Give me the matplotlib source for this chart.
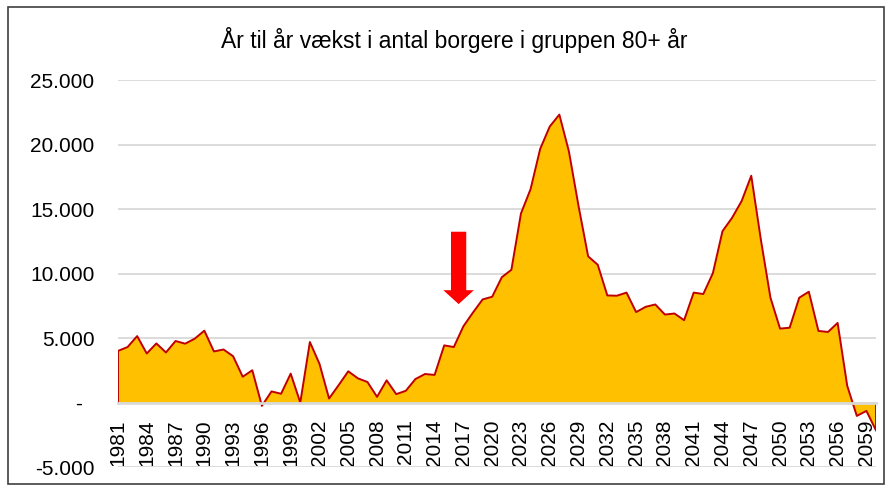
import matplotlib
matplotlib.use('Agg')
import matplotlib.pyplot as plt
from matplotlib.patches import Rectangle
from matplotlib.ticker import FuncFormatter, MultipleLocator

plt.rcParams['font.family'] = ['Liberation Sans', 'DejaVu Sans']

# år 1981-2060, vækst i antal borgere 80+
years = list(range(1981, 2061))
growth = [
    4000, 4300, 5150, 3800, 4580, 3880, 4770, 4560, 4950, 5570,
    3960, 4110, 3590, 2000, 2500, -260, 860, 680, 2240, 0,
    4690, 3000, 310, 1350, 2420, 1875, 1590, 440, 1720, 650,
    910, 1820, 2210, 2140, 4430, 4300, 5910, 6980, 7990, 8200,
    9710, 10290, 14660, 16540, 19660, 21400, 22320, 19450, 15230, 11330,
    10680, 8300, 8280, 8520, 7010, 7420, 7600, 6820, 6900, 6380,
    8520, 8410, 10030, 13280, 14320, 15625, 17580, 12630, 8125, 5730,
    5800, 8125, 8590, 5550, 5470, 6170, 1300, -1040, -650, -2160,
]
tick_years = list(range(1981, 2061, 3))

arrow_year = 2016.5
arrow_top = 13240
arrow_tip = 7630

title = 'År til år vækst i antal borgere i gruppen 80+ år'

fig = plt.figure(figsize=(8.87, 4.9), dpi=100)
ax = fig.add_axes([0.1330, 0.0469, 0.8546, 0.7898])

ax.fill_between(years, growth, 0, facecolor='#FFC000', edgecolor='none', zorder=1)
ax.plot(years, growth, color='#C00000', lw=1.4, zorder=2)
ax.vlines([years[0], years[-1]], 0, [growth[0], growth[-1]], color='#C00000', lw=1.4, zorder=2)

ax.set_xlim(years[0], years[-1])
ax.set_ylim(-5000, 25000)
ax.yaxis.set_major_locator(MultipleLocator(5000))
ax.set_xticks(tick_years)


def fmt(v, pos):
    if v == 0:
        return '-  '
    return f'{int(v):,}'.replace(',', '.')


ax.yaxis.set_major_formatter(FuncFormatter(fmt))
ax.grid(axis='y', color='#D9D9D9', lw=1.3)
ax.set_axisbelow(True)

for s in ['top', 'right', 'left']:
    ax.spines[s].set_visible(False)
ax.spines['bottom'].set_position(('data', 0))
ax.spines['bottom'].set_color('#D9D9D9')
ax.spines['bottom'].set_linewidth(2)
ax.spines['bottom'].set_zorder(3)

ax.tick_params(axis='both', length=0, labelsize=15, colors='black')
ax.tick_params(axis='y', pad=17)
ax.tick_params(axis='x', pad=12, labelrotation=90)

ax.annotate('', xy=(arrow_year, arrow_tip), xytext=(arrow_year, arrow_top),
            arrowprops=dict(facecolor='#FF0000', edgecolor='none', width=11,
                            headwidth=22, headlength=10, shrink=0), zorder=4)

fig.text(0.512, 0.918, title, ha='center', va='center', fontsize=16.5)

fig.patches.append(Rectangle((0.009, 0.012), 0.988, 0.974, transform=fig.transFigure,
                             fill=False, edgecolor='#404040', lw=1.2))

fig.savefig('out.png', dpi=100)
